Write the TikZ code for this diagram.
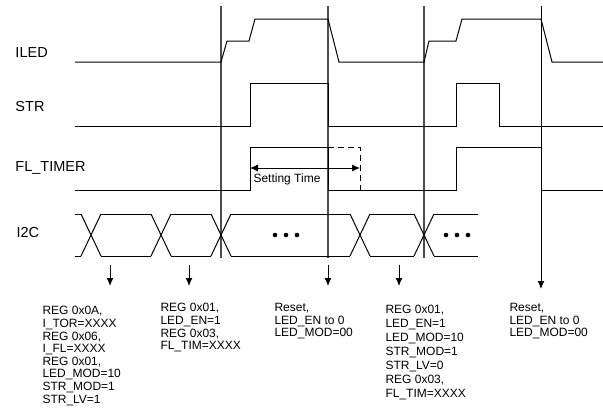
\documentclass[tikz,border=0pt]{standalone}
\usepackage{fontspec}
\setmainfont{Liberation Sans}
\usetikzlibrary{arrows.meta}
\begin{document}
\begin{tikzpicture}[x=1pt, y=-1pt, line width=1pt,
  marker/.style={black!70, line width=1.1pt},
  down/.style={-{Latex[length=8pt,width=7pt]}},
  signame/.style={anchor=west, inner sep=0pt, font=\fontsize{14.5}{14.5}\selectfont},
  info/.style={anchor=north west, inner sep=0pt, align=left, font=\fontsize{12}{12.6}\selectfont}]
\useasboundingbox (0,0) rectangle (603,415);
\foreach \x in {221,328,424} \draw[marker] (\x,6) -- (\x,258);
\draw[down] (541,6) -- (541,289);
\node[signame] (iled) at (15,53) {ILED};
\node[signame] (str) at (15,107) {STR};
\node[signame] (fltimer) at (15,168) {FL\_TIMER};
\node[signame] (itwoc) at (16,233) {I2C};
\draw (75,62) -- (221,62) -- (227,41) -- (249,41) -- (255,19) -- (328,19) -- (339,62) -- (424,62) -- (429,41) -- (456,41) -- (462,19) -- (541,19) -- (552,62) -- (603,62);
\draw (75,126) -- (250,126) -- (250,83) -- (328,83) -- (328,126) -- (456,126) -- (456,83) -- (499,83) -- (499,126) -- (603,126);
\draw (75,190) -- (250,190) -- (250,147) -- (328,147) -- (328,190) -- (456,190) -- (456,147) -- (541,147) (541,190) -- (603,190);
\draw[dashed, dash pattern=on 6pt off 4pt] (328,147) -- (360,147) -- (360,190);
\coordinate (tstart) at (250,168);
\coordinate (tend) at (360,168);
\draw[{Latex[length=8pt,width=7pt]}-{Latex[length=8pt,width=7pt]}, line width=0.8pt] (tstart) -- (tend);
\node[font=\fontsize{12}{12}\selectfont, inner sep=0pt] (settime) at (287,179) {Setting Time};
\foreach \a/\b in {75/81,101/151,171/211,231/350,370/414,434/478}
  \draw (\a,214) -- (\b,214) (\a,256) -- (\b,256);
\foreach \c in {91,161,221,360,424}
  \draw (\c-10,214) -- (\c+10,256) (\c-10,256) -- (\c+10,214);
\foreach \x in {275,286,297,446,457,468} \fill (\x,235) circle (2.3pt);
\foreach \x in {110,189,328,399} \draw[down] (\x,265) -- (\x,286);
\node[info] (cmda) at (42,306) {REG 0x0A,\\I\_TOR=XXXX\\REG 0x06,\\I\_FL=XXXX\\REG 0x01,\\LED\_MOD=10\\STR\_MOD=1\\STR\_LV=1};
\node[info] (cmdb) at (160,303) {REG 0x01,\\LED\_EN=1\\REG 0x03,\\FL\_TIM=XXXX};
\node[info] (cmdc) at (274,303) {Reset,\\LED\_EN to 0\\LED\_MOD=00};
\node[info, font=\fontsize{12}{14}\selectfont] (cmdd) at (385,305) {REG 0x01,\\LED\_EN=1\\LED\_MOD=10\\STR\_MOD=1\\STR\_LV=0\\REG 0x03,\\FL\_TIM=XXXX};
\node[info] (cmde) at (509,303) {Reset,\\LED\_EN to 0\\LED\_MOD=00};
\end{tikzpicture}
\end{document}
